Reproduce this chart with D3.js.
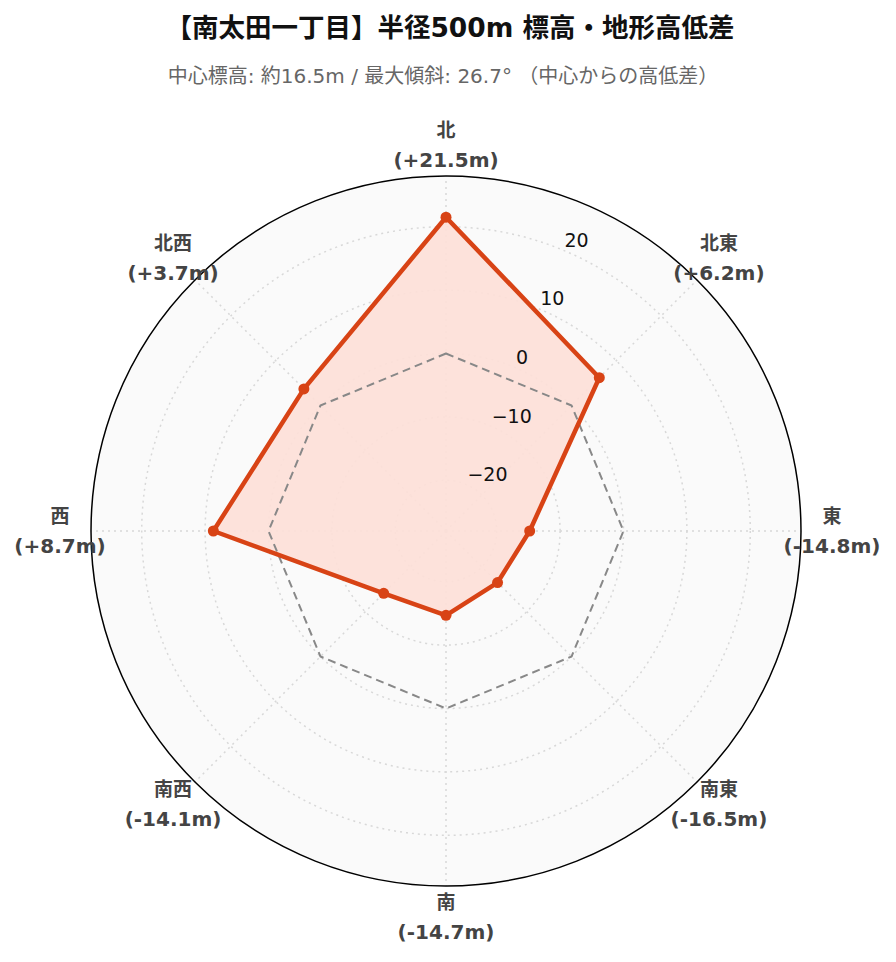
<!DOCTYPE html>
<html><head><meta charset="utf-8">
<script src="https://cdn.jsdelivr.net/npm/d3@7"></script>
<style>body{margin:0;background:#fff}svg{display:block}</style>
</head><body>
<script>
const directions = ["北","北東","東","南東","南","南西","西","北西"];
const values = [21.5, 6.2, -14.8, -16.5, -14.7, -14.1, 8.7, 3.7];
const valueLabels = ["(+21.5m)","(+6.2m)","(-14.8m)","(-16.5m)","(-14.7m)","(-14.1m)","(+8.7m)","(+3.7m)"];
const radialTicks = [-20, -10, 0, 10, 20];
const radialRange = [-28, 28];
const titleText = "【南太田一丁目】半径500m 標高・地形高低差";
const subtitleText = "中心標高: 約16.5m / 最大傾斜: 26.7° （中心からの高低差）";

const W = 896, H = 962, cx = 446, cy = 531, R = 355;
const FONT = "'DejaVu Sans','Noto Sans CJK JP',sans-serif";
const svg = d3.select("body").append("svg").attr("width", W).attr("height", H);

const r = d3.scaleLinear().domain(radialRange).range([0, R]);
const ang = d3.scaleBand().domain(directions).range([0, 2*Math.PI]);
const angOf = d => ang(d);
const pt = (a, rad) => [cx + rad*Math.sin(a), cy - rad*Math.cos(a)];

svg.append("text").attr("x", 450).attr("y", 37).attr("text-anchor","middle")
  .attr("font-family", FONT).attr("font-weight","bold").attr("font-size", 26.5).attr("fill","#111")
  .text(titleText);
svg.append("text").attr("x", 443).attr("y", 83).attr("text-anchor","middle")
  .attr("font-family", FONT).attr("font-size", 20).attr("fill","#666")
  .text(subtitleText);

const g = svg.append("g");
g.append("circle").attr("cx",cx).attr("cy",cy).attr("r",R).attr("fill","#fafafa");
// grid circles
g.selectAll("circle.grid").data(radialTicks).join("circle").attr("class","grid")
  .attr("cx",cx).attr("cy",cy).attr("r", d=>r(d)).attr("fill","none")
  .attr("stroke","#d8d8d8").attr("stroke-width",1.5).attr("stroke-dasharray","2,4");
// spokes
g.selectAll("line.spoke").data(directions).join("line").attr("class","spoke")
  .attr("x1",cx).attr("y1",cy)
  .attr("x2", d=>pt(angOf(d),R)[0]).attr("y2", d=>pt(angOf(d),R)[1])
  .attr("stroke","#d8d8d8").attr("stroke-width",1.5).attr("stroke-dasharray","2,4");

const line = d3.lineRadial().angle(d=>angOf(d.dir)).radius(d=>r(d.v)).curve(d3.curveLinearClosed);
const data = directions.map((d,i)=>({dir:d, v:values[i]}));
const zeroData = directions.map(d=>({dir:d, v:0}));

const pg = g.append("g").attr("transform",`translate(${cx},${cy})`);
pg.append("path").attr("d", line(data)).attr("fill","#fddfd8").attr("fill-opacity",0.92).attr("stroke","none");
pg.append("path").attr("d", line(zeroData)).attr("fill","none").attr("stroke","#888")
  .attr("stroke-width",2).attr("stroke-dasharray","8,5").attr("stroke-linejoin","round");
pg.append("path").attr("d", line(data)).attr("fill","none").attr("stroke","#d84315")
  .attr("stroke-width",4.5).attr("stroke-linejoin","round");
pg.selectAll("circle.m").data(data).join("circle").attr("class","m")
  .attr("cx", d=>r(d.v)*Math.sin(angOf(d.dir))).attr("cy", d=>-r(d.v)*Math.cos(angOf(d.dir)))
  .attr("r",5.5).attr("fill","#d84315");

// outer circle
g.append("circle").attr("cx",cx).attr("cy",cy).attr("r",R).attr("fill","none").attr("stroke","#000").attr("stroke-width",1.5);

// radial tick labels
const tickAng = Math.PI/8;
g.selectAll("text.rt").data(radialTicks).join("text").attr("class","rt")
  .attr("x", d=>pt(tickAng, r(d))[0]+2).attr("y", d=>pt(tickAng, r(d))[1]-3)
  .attr("font-family", FONT).attr("font-size",19).attr("fill","#111")
  .text(d=> d<0 ? "\u2212"+Math.abs(d) : String(d));

// angular labels
const LR = 386;
const al = g.selectAll("g.al").data(directions).join("g").attr("class","al")
  .attr("transform", d=>{const p=pt(angOf(d),LR);return `translate(${p[0]},${p[1]})`;});
al.append("text").attr("y",-8).attr("text-anchor","middle").attr("font-family",FONT)
  .attr("font-weight","bold").attr("font-size",19).attr("fill","#444").text(d=>d);
al.append("text").attr("y",22).attr("text-anchor","middle").attr("font-family",FONT)
  .attr("font-weight","bold").attr("font-size",20).attr("fill","#444").text((d,i)=>valueLabels[i]);
</script>
</body></html>
